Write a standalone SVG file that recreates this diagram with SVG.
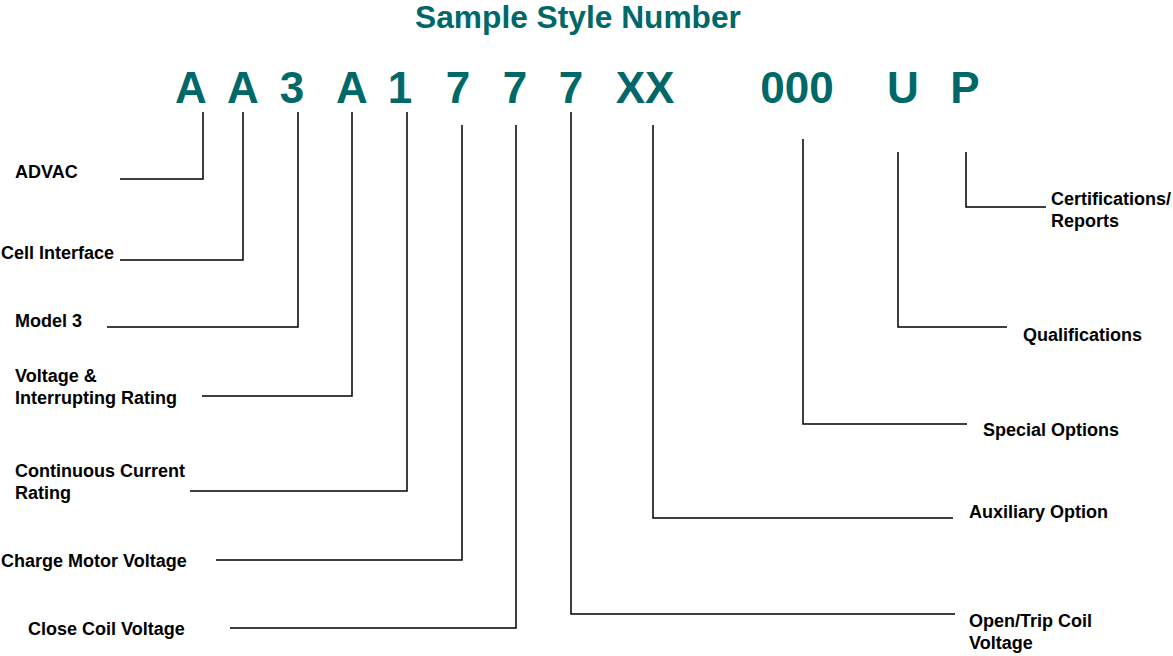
<svg xmlns="http://www.w3.org/2000/svg" width="1173" height="656" viewBox="0 0 1173 656">
<style>
.code{font-family:"Liberation Sans",Arial,sans-serif;font-weight:bold;fill:#006868;}
.title{font-size:31.7px;}
.ch{font-size:44px;text-anchor:middle;}
.lbl{font-family:"Liberation Sans",Arial,sans-serif;font-weight:bold;font-size:18px;fill:#000;}
.ln{fill:none;stroke:#000;stroke-width:1.5;}
</style>
<rect width="1173" height="656" fill="#fff"/>
<g id="title"><text class="code title" x="578" y="28" text-anchor="middle">Sample Style Number</text></g>
<g id="code">
<text class="code ch" x="191" y="103">A</text>
<text class="code ch" x="243" y="103">A</text>
<text class="code ch" x="292" y="103">3</text>
<text class="code ch" x="352" y="103">A</text>
<text class="code ch" x="400" y="103">1</text>
<text class="code ch" x="458" y="103">7</text>
<text class="code ch" x="515" y="103">7</text>
<text class="code ch" x="571" y="103">7</text>
<text class="code ch" x="645" y="103">XX</text>
<text class="code ch" x="797" y="103">000</text>
<text class="code ch" x="903" y="103">U</text>
<text class="code ch" x="965" y="103">P</text>
</g>
<g id="connectors">
<polyline class="ln" points="203,112 203,179 120,179"/>
<polyline class="ln" points="243,112 243,260 120,260"/>
<polyline class="ln" points="298,112 298,327 107,327"/>
<polyline class="ln" points="352,112 352,396 202,396"/>
<polyline class="ln" points="407,112 407,491 190,491"/>
<polyline class="ln" points="462,125 462,560 216,560"/>
<polyline class="ln" points="516,125 516,628 230,628"/>
<polyline class="ln" points="571,112 571,614 955,614"/>
<polyline class="ln" points="653,125 653,518 953,518"/>
<polyline class="ln" points="803,139 803,424 967,424"/>
<polyline class="ln" points="898,152 898,327 1007,327"/>
<polyline class="ln" points="966,152 966,207 1046,207"/>
</g>
<g id="n-advac"><text class="lbl" x="15" y="178">ADVAC</text></g>
<g id="n-cell"><text class="lbl" x="1" y="259">Cell Interface</text></g>
<g id="n-model"><text class="lbl" x="15" y="327">Model 3</text></g>
<g id="n-voltage"><text class="lbl" x="15" y="382">Voltage &amp;</text><text class="lbl" x="15" y="404">Interrupting Rating</text></g>
<g id="n-current"><text class="lbl" x="15" y="477">Continuous Current</text><text class="lbl" x="15" y="499">Rating</text></g>
<g id="n-charge"><text class="lbl" x="1" y="567">Charge Motor Voltage</text></g>
<g id="n-close"><text class="lbl" x="28" y="635">Close Coil Voltage</text></g>
<g id="n-open"><text class="lbl" x="969" y="627">Open/Trip Coil</text><text class="lbl" x="969" y="649">Voltage</text></g>
<g id="n-aux"><text class="lbl" x="969" y="518">Auxiliary Option</text></g>
<g id="n-special"><text class="lbl" x="983" y="436">Special Options</text></g>
<g id="n-qual"><text class="lbl" x="1023" y="341">Qualifications</text></g>
<g id="n-cert"><text class="lbl" x="1051" y="205">Certifications/</text><text class="lbl" x="1051" y="227">Reports</text></g>
</svg>
